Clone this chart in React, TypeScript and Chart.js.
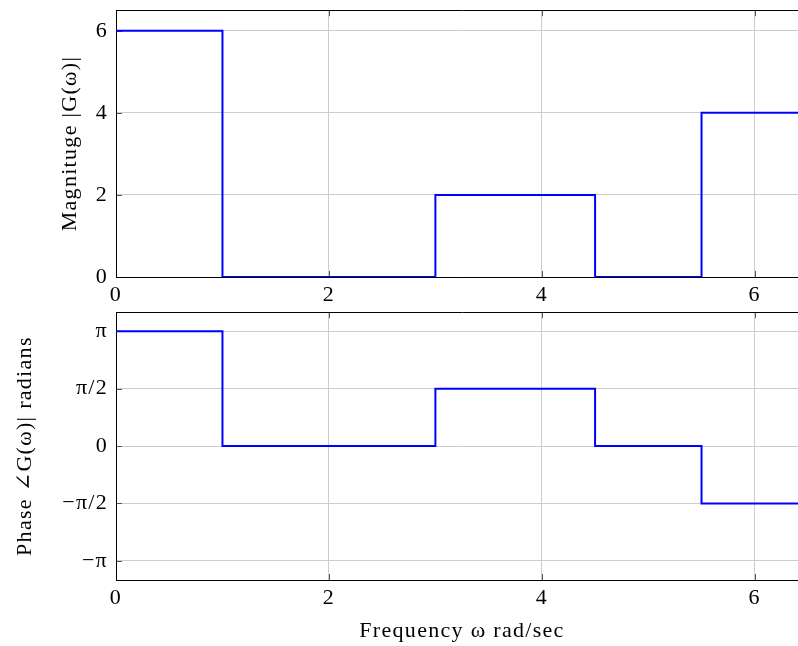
import React, { useEffect, useRef } from "react";
import { Chart, registerables } from "chart.js";

Chart.register(...registerables);

// ---- data ----
const FREQ_EDGES = [0, 1, 3, 4.5, 5.5, 6.5];
const MAGNITUDE = [6, 0, 2, 0, 4];
const PHASE = [Math.PI, 0, Math.PI / 2, 0, -Math.PI / 2];
const X_TICKS = [0, 2, 4, 6];
const MAG_TICKS = [0, 2, 4, 6];
const PHASE_TICK_VALUES = [-Math.PI, -Math.PI / 2, 0, Math.PI / 2, Math.PI];
const PHASE_TICK_LABELS = ["−π", "−π/2", "0", "π/2", "π"];
const X_RANGE = [0, 6.5];
const MAG_RANGE = [0, 6.5];
const PHASE_RANGE = [(-7 * Math.PI) / 6, (7 * Math.PI) / 6];

const FONT_FAMILY = "'Liberation Serif', 'DejaVu Serif', serif";
const FONT_SIZE = 22;

function stepPoints(edges: number[], values: number[]) {
  const pts: { x: number; y: number }[] = [];
  values.forEach((v, i) => {
    pts.push({ x: edges[i], y: v });
    pts.push({ x: edges[i + 1], y: v });
  });
  return pts;
}

const spacingPlugin = {
  id: "letterSpacing",
  beforeDraw(chart: any) {
    try {
      (chart.ctx as any).letterSpacing = "1.3px";
    } catch (e) {}
  },
};

const framePlugin = {
  id: "frameTicks",
  beforeDatasetsDraw(chart: any) {
    const { ctx, chartArea } = chart;
    const { left, right, top, bottom } = chartArea;
    const xs = chart.scales.x;
    const ys = chart.scales.y;
    ctx.save();
    ctx.strokeStyle = "#555";
    ctx.lineWidth = 1;
    const L = 6;
    ctx.beginPath();
    xs.ticks.forEach((t: any) => {
      const px = Math.round(xs.getPixelForValue(t.value)) + 0.5;
      ctx.moveTo(px, bottom);
      ctx.lineTo(px, bottom - L);
      ctx.moveTo(px, top);
      ctx.lineTo(px, top + L);
    });
    ys.ticks.forEach((t: any) => {
      const py = Math.round(ys.getPixelForValue(t.value)) + 0.5;
      ctx.moveTo(left, py);
      ctx.lineTo(left + L, py);
      ctx.moveTo(right, py);
      ctx.lineTo(right - L, py);
    });
    ctx.stroke();
    ctx.strokeStyle = "#000";
    ctx.beginPath();
    ctx.rect(Math.round(left) + 0.5, Math.round(top) + 0.5, Math.round(right - left), Math.round(bottom - top));
    ctx.stroke();
    ctx.restore();
  },
};

function makeConfig(opts: {
  points: { x: number; y: number }[];
  yRange: number[];
  yTickValues: number[];
  yTickLabels: string[];
  yTitle: string;
  yTitlePad: number;
  xTitle: string | null;
  xHeight: number;
}) {
  const font = { family: FONT_FAMILY, size: FONT_SIZE };
  return {
    type: "line" as const,
    data: {
      datasets: [
        {
          data: opts.points,
          borderColor: "#0000ff",
          borderWidth: 2,
          pointRadius: 0,
          fill: false,
          tension: 0,
        },
      ],
    },
    options: {
      responsive: false,
      animation: false as const,
      layout: { padding: { top: 20, left: 0, right: 0, bottom: 0 } },
      plugins: { legend: { display: false }, tooltip: { enabled: false } },
      scales: {
        x: {
          type: "linear" as const,
          min: X_RANGE[0],
          max: X_RANGE[1],
          afterBuildTicks: (scale: any) => {
            scale.ticks = X_TICKS.map((v) => ({ value: v }));
          },
          afterFit: (scale: any) => {
            scale.height = opts.xHeight;
          },
          ticks: {
            font,
            color: "#000",
            padding: 5,
            maxRotation: 0,
            callback: (v: any) => String(v),
          },
          grid: { color: "#cccccc", lineWidth: 1, drawTicks: false },
          border: { display: true, color: "#000", width: 1 },
          title: {
            display: !!opts.xTitle,
            text: opts.xTitle || "",
            font,
            color: "#000",
            padding: { top: 0, bottom: 2 },
          },
        },
        y: {
          type: "linear" as const,
          min: opts.yRange[0],
          max: opts.yRange[1],
          afterBuildTicks: (scale: any) => {
            scale.ticks = opts.yTickValues.map((v) => ({ value: v }));
          },
          afterFit: (scale: any) => {
            scale.width = 108;
          },
          ticks: {
            font,
            color: "#000",
            padding: 8,
            callback: (_v: any, i: number) => opts.yTickLabels[i],
          },
          grid: { color: "#cccccc", lineWidth: 1, drawTicks: false },
          border: { display: true, color: "#000", width: 1 },
          title: {
            display: true,
            text: opts.yTitle,
            font,
            color: "#000",
            padding: { top: opts.yTitlePad, bottom: 0 },
          },
        },
      },
    },
    plugins: [spacingPlugin, framePlugin],
  };
}

export default function App() {
  const topRef = useRef<HTMLCanvasElement>(null);
  const botRef = useRef<HTMLCanvasElement>(null);

  useEffect(() => {
    const c1 = new Chart(
      topRef.current!,
      makeConfig({
        points: stepPoints(FREQ_EDGES, MAGNITUDE),
        yRange: MAG_RANGE,
        yTickValues: MAG_TICKS,
        yTickLabels: MAG_TICKS.map(String),
        yTitle: "Magnituge |G(ω)|",
        yTitlePad: 49,
        xTitle: null,
        xHeight: 31,
      }) as any
    );
    const c2 = new Chart(
      botRef.current!,
      makeConfig({
        points: stepPoints(FREQ_EDGES, PHASE),
        yRange: PHASE_RANGE,
        yTickValues: PHASE_TICK_VALUES,
        yTickLabels: PHASE_TICK_LABELS,
        yTitle: "Phase ∠G(ω)| radians",
        yTitlePad: 4,
        xTitle: "Frequency ω rad/sec",
        xHeight: 66,
      }) as any
    );
    return () => {
      c1.destroy();
      c2.destroy();
    };
  }, []);

  return (
    <div
      style={{
        position: "absolute",
        left: 8,
        top: 8,
        width: 790,
        height: 638,
        overflow: "hidden",
        background: "#fff",
      }}
    >
      <canvas
        ref={topRef}
        width={800}
        height={319}
        style={{ position: "absolute", left: 0, top: -19, width: 800, height: 319 }}
      />
      <canvas
        ref={botRef}
        width={800}
        height={355}
        style={{ position: "absolute", left: 0, top: 283, width: 800, height: 355 }}
      />
    </div>
  );
}
